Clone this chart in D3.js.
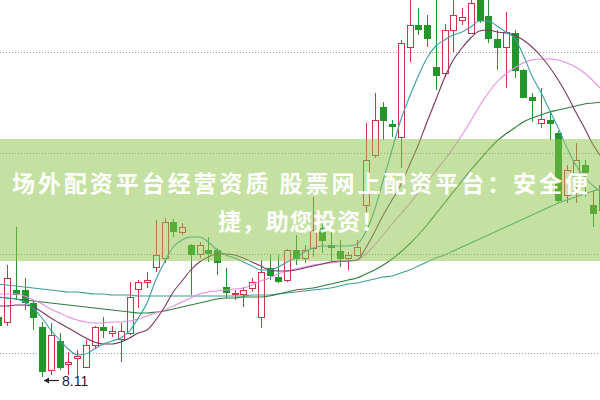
<!DOCTYPE html>
<html><head><meta charset="utf-8">
<script src="https://cdn.jsdelivr.net/npm/d3@7"></script>
<style>html,body{margin:0;padding:0;background:#fff;overflow:hidden}</style>
</head><body><svg id="chart" width="600" height="400"></svg>
<script>
// trading days (index -1 is the partly visible candle at the left edge)
const days = d3.range(-1, 69);
const opens = [8.71,
 8.66,8.98,8.98,8.85,8.61,8.18,8.47,8.24,8.30,8.21,
 8.43,8.61,8.55,8.49,8.55,8.99,9.06,9.21,9.30,9.66,
 9.56,9.43,9.34,9.38,9.38,9.01,8.94,8.94,9.00,8.71,
 9.20,9.11,9.08,9.38,9.30,9.40,9.60,9.43,9.37,9.30,
 9.33,9.83,10.33,10.81,10.64,10.51,11.41,11.63,11.63,11.21,
 11.15,11.58,11.68,11.55,11.96,11.72,11.49,11.41,11.55,11.18,
 10.91,10.65,10.68,10.55,9.93,10.03,10.23,9.83,9.78];
const highs = [8.76,
 9.23,9.61,9.10,8.88,8.66,8.65,8.55,8.36,8.38,8.48,
 8.62,8.71,8.62,8.65,9.06,9.08,9.16,9.68,9.70,9.69,
 9.65,9.44,9.46,9.51,9.40,9.20,8.98,9.01,9.10,9.28,
 9.33,9.33,9.39,9.53,9.43,9.91,9.70,9.58,9.48,9.36,
 9.48,10.65,10.95,10.86,10.68,11.48,11.93,11.80,11.73,11.93,
 11.64,11.93,11.80,11.93,11.98,11.93,11.58,11.76,11.58,11.19,
 10.95,11.00,10.76,10.57,10.23,10.45,10.28,9.98,10.08];
const lows = [8.60,
 8.62,8.88,8.78,8.58,8.11,8.13,8.18,8.13,8.12,8.20,
 8.40,8.50,8.51,8.26,8.53,8.80,9.00,9.16,9.25,9.51,
 9.53,8.93,9.30,9.26,9.13,8.90,8.88,8.81,8.96,8.60,
 9.08,9.05,9.06,9.23,9.25,9.31,9.35,9.26,9.21,9.18,
 9.31,9.75,10.30,10.48,10.51,10.20,11.26,11.53,11.41,10.98,
 11.11,11.36,11.63,11.55,11.65,11.45,11.18,11.00,11.10,10.90,
 10.66,10.60,10.48,9.85,9.85,9.85,9.91,9.61,9.70];
const closes = [8.63,
 9.10,8.94,8.86,8.71,8.17,8.53,8.21,8.26,8.32,8.43,
 8.61,8.58,8.57,8.57,8.91,9.06,9.08,9.33,9.66,9.57,
 9.61,9.34,9.43,9.35,9.26,8.96,8.95,8.98,9.06,9.16,
 9.13,9.07,9.38,9.30,9.38,9.58,9.48,9.41,9.30,9.33,
 9.41,10.28,10.68,10.68,10.62,11.45,11.63,11.59,11.50,11.13,
 11.58,11.73,11.71,11.85,11.68,11.50,11.41,11.56,11.18,10.91,
 10.88,10.69,10.65,9.88,10.18,10.28,10.16,9.75,10.03];

// moving-average lines at each day
const ma5 = [8.91,
 8.90,8.89,8.86,8.80,8.70,8.58,8.48,8.39,8.33,8.34,
 8.39,8.44,8.47,8.50,8.57,8.70,8.85,9.08,9.26,9.41,
 9.48,9.51,9.51,9.46,9.38,9.33,9.30,9.26,9.22,9.18,
 9.18,9.21,9.26,9.30,9.36,9.40,9.42,9.42,9.42,9.42,
 9.44,9.56,9.78,10.08,10.38,10.68,10.91,11.12,11.30,11.42,
 11.48,11.53,11.56,11.61,11.67,11.67,11.62,11.56,11.50,11.33,
 11.12,10.96,10.78,10.60,10.40,10.23,10.11,10.02,9.96];
const ma10 = [8.82,
 8.82,8.83,8.83,8.81,8.76,8.70,8.65,8.60,8.55,8.50,
 8.46,8.44,8.44,8.46,8.50,8.55,8.58,8.68,8.81,8.96,
 9.07,9.18,9.26,9.31,9.34,9.34,9.33,9.30,9.26,9.22,
 9.18,9.17,9.17,9.18,9.20,9.22,9.24,9.26,9.27,9.27,
 9.28,9.40,9.56,9.73,9.88,10.03,10.23,10.43,10.66,10.88,
 11.10,11.28,11.40,11.50,11.57,11.58,11.56,11.55,11.53,11.48,
 11.41,11.32,11.21,11.08,10.93,10.76,10.60,10.43,10.30];
const ma20 = [8.94,
 8.94,8.94,8.92,8.88,8.84,8.79,8.75,8.71,8.68,8.66,
 8.65,8.65,8.66,8.66,8.67,8.69,8.72,8.75,8.78,8.82,
 8.86,8.90,8.94,8.96,8.97,8.98,8.99,9.00,9.03,9.07,
 9.10,9.14,9.17,9.19,9.21,9.23,9.24,9.25,9.26,9.27,
 9.28,9.34,9.43,9.53,9.64,9.74,9.84,9.95,10.06,10.17,
 10.28,10.40,10.53,10.67,10.82,10.95,11.06,11.14,11.20,11.25,
 11.28,11.29,11.29,11.28,11.25,11.21,11.15,11.07,10.98];
const ma30 = [8.91,
 8.90,8.89,8.88,8.87,8.86,8.85,8.84,8.83,8.82,8.81,
 8.80,8.79,8.78,8.77,8.76,8.75,8.75,8.76,8.77,8.79,
 8.81,8.83,8.85,8.87,8.89,8.90,8.90,8.91,8.91,8.91,
 8.92,8.94,8.96,8.98,8.99,9.00,9.02,9.04,9.06,9.08,
 9.10,9.14,9.18,9.23,9.29,9.36,9.44,9.53,9.63,9.74,
 9.85,9.96,10.07,10.18,10.28,10.38,10.47,10.54,10.60,10.66,
 10.70,10.73,10.76,10.78,10.80,10.82,10.84,10.85,10.86];
const ma60 = [9.04,
 9.03,9.02,9.01,9.00,8.99,8.98,8.97,8.96,8.96,8.95,
 8.94,8.94,8.93,8.93,8.93,8.92,8.92,8.92,8.92,8.92,
 8.92,8.92,8.92,8.92,8.92,8.92,8.92,8.92,8.93,8.93,
 8.93,8.94,8.95,8.96,8.97,8.98,8.99,9.00,9.02,9.04,
 9.05,9.07,9.09,9.11,9.12,9.15,9.18,9.22,9.26,9.30,
 9.33,9.37,9.41,9.45,9.49,9.53,9.57,9.61,9.65,9.69,
 9.73,9.77,9.81,9.85,9.88,9.91,9.94,9.97,9.99];

const maNames = ["MA5","MA10","MA20","MA30","MA60"];
const gridPrices = [11.36, 10.35, 9.34, 8.35];
const lowLabel = "8.11";
const lowValue = 8.11;
const titleLines = ["场外配资平台经营资质 股票网上配资平台：安全便", "捷，助您投资！"];

// ---------- drawing ----------
const W = 600, H = 400;
const svg = d3.select("#chart");
const x = d3.scalePoint().domain(days).range([-1.75, 602]);
const y = d3.scaleLinear().domain([8, 12]).range([388, -12]);

const colors = {up:"#cc3347", down:"#22962a",
  MA5:"#3a9ea6", MA10:"#7a3560", MA20:"#e48de4", MA30:"#2f7d3a", MA60:"#3d9c97"};

// dotted grid
svg.append("g").selectAll("line").data(gridPrices).join("line")
  .attr("x1", 0).attr("x2", W)
  .attr("y1", d => Math.round(y(d)) + 0.5).attr("y2", d => Math.round(y(d)) + 0.5)
  .attr("stroke", "#9a9a9a").attr("stroke-width", 1).attr("stroke-dasharray", "1,2");

const candles = days.map((d, i) => ({d, o: opens[i], h: highs[i], l: lows[i], c: closes[i]}));
const cx = d => Math.round(x(d));
const gC = svg.append("g");
const cg = gC.selectAll("g").data(candles).join("g");
cg.append("line")
  .attr("x1", d => cx(d.d) + 0.5).attr("x2", d => cx(d.d) + 0.5)
  .attr("y1", d => y(d.h)).attr("y2", d => y(d.l))
  .attr("stroke", d => d.c >= d.o ? colors.up : colors.down).attr("stroke-width", 1);
cg.append("rect")
  .attr("x", d => cx(d.d) - 2.5)
  .attr("width", 6)
  .attr("y", d => Math.round(y(Math.max(d.o, d.c))) + 0.5)
  .attr("height", d => Math.max(1, Math.round(Math.abs(y(d.o) - y(d.c)))))
  .attr("fill", d => d.c >= d.o ? "#fff" : colors.down)
  .attr("stroke", d => d.c >= d.o ? colors.up : colors.down).attr("stroke-width", 1);

// moving averages
const maSeries = [ma60, ma30, ma20, ma10, ma5];
const maOrder = ["MA60","MA30","MA20","MA10","MA5"];
const line = d3.line().x((v, i) => x(days[i])).y(v => y(v)).curve(d3.curveMonotoneX);
svg.append("g").selectAll("path").data(maSeries).join("path")
  .attr("d", line).attr("fill", "none")
  .attr("stroke", (s, k) => colors[maOrder[k]]).attr("stroke-width", 1.1);

// low-price marker
const iLow = lows.indexOf(lowValue);
const ly = Math.round(y(lowValue)) + 3.5;
const lx = cx(days[iLow]) + 2;
const ann = svg.append("g");
ann.append("line").attr("x1", lx).attr("x2", lx + 15).attr("y1", ly).attr("y2", ly)
  .attr("stroke", "#222").attr("stroke-width", 1.2);
ann.append("path").attr("d", `M${lx},${ly} l5,-3 l0,6 z`).attr("fill", "#222");
ann.append("text").attr("x", lx + 18).attr("y", ly + 5)
  .attr("font-family", "Liberation Sans, Arial, sans-serif").attr("font-size", 14)
  .attr("fill", "#222").text(lowLabel);

// translucent banner with title
svg.append("rect").attr("x", 0).attr("y", 139).attr("width", W).attr("height", 122)
  .attr("fill", "rgb(140,196,70)").attr("fill-opacity", 0.5);
const tl = svg.append("g").attr("font-family", "Noto Sans CJK SC, sans-serif")
  .attr("font-weight", "bold").attr("font-size", 23).attr("fill", "#fff");
tl.append("text").attr("x", 12).attr("y", 182).attr("dominant-baseline", "central")
  .attr("textLength", 576).attr("lengthAdjust", "spacing").text(titleLines[0]);
tl.append("text").attr("x", 218).attr("y", 220).attr("dominant-baseline", "central")
  .attr("textLength", 166).attr("lengthAdjust", "spacing").text(titleLines[1]);
</script></body></html>
